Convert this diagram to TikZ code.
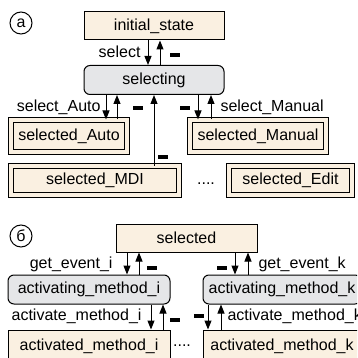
\documentclass[tikz,border=0pt]{standalone}
\usepackage{fontspec}
\setmainfont{Liberation Sans}
\usetikzlibrary{arrows.meta}
\definecolor{cream}{RGB}{250,240,225}
\definecolor{lgray}{RGB}{229,230,232}
\tikzstyle{state}=[rectangle,draw=black,fill=cream,line width=1pt,inner sep=0]
\tikzstyle{process}=[rectangle,rounded corners=6pt,draw=black,fill=lgray,line width=1pt,inner sep=0]
\tikzstyle{final}=[rectangle,draw=black,fill=cream,double=cream,double distance=3.5pt,line width=1pt,inner sep=0]
\tikzstyle{tag}=[circle,draw=black,line width=1pt,minimum size=22pt,inner sep=0]
\tikzstyle{event}=[inner sep=0]
\tikzstyle{nil}=[rectangle,fill=black,minimum width=10pt,minimum height=3.2pt,inner sep=0]

\begin{document}
\begin{tikzpicture}[x=1pt,y=-1pt,line width=1pt,>={Triangle[length=9pt,width=7pt]},
    font=\fontsize{16}{19}\selectfont]
        \path[use as bounding box,clip] (0,0) rectangle (357,358);
        % (a)
        \node[tag] (taga) at (21,23) {a};
        \node[state,minimum width=140pt,minimum height=28pt] (init) at (154,26) {initial\_state};
        \node[process,minimum width=140pt,minimum height=29pt] (sel) at (154,80) {selecting};
        \node[final,minimum width=116pt,minimum height=32pt] (auto) at (69,136) {selected\_Auto};
        \node[final,minimum width=136pt,minimum height=32pt] (manual) at (258,136) {selected\_Manual};
        \node[final,minimum width=168pt,minimum height=29pt] (mdi) at (95,180.5) {selected\_MDI};
        \node[final,minimum width=123pt,minimum height=29pt] (edit) at (290.5,180.5) {selected\_Edit};
        \node[event] (dotsa) at (206,184) {....};

        \node[event,anchor=east] (lselect) at (141,52) {select};
        \node[nil] (n1) at (175,55) {};
        \node[event,anchor=east] (lauto) at (101,107) {select\_Auto};
        \node[nil] (n2) at (138,108) {};
        \node[nil] (n3) at (185,108) {};
        \node[event,anchor=west] (lmanual) at (220,107) {select\_Manual};
        \node[nil] (n4) at (163,157) {};

        \draw [->] ([xshift=-6pt]init.south) -- ([xshift=-6pt]sel.north);
        \draw [->] ([xshift=6pt]sel.north) -- ([xshift=6pt]init.south);
        \draw [->] ([xshift=-48pt]sel.south) -- ([xshift=-48pt]sel.south |- auto.north);
        \draw [->] ([xshift=-37pt]sel.south |- auto.north) -- ([xshift=-37pt]sel.south);
        \draw [->] (sel.south |- mdi.north) -- (sel.south);
        \draw [->] ([xshift=44pt]sel.south) -- ([xshift=44pt]sel.south |- manual.north);
        \draw [->] ([xshift=57pt]sel.south |- manual.north) -- ([xshift=57pt]sel.south);

        % (b)
        \node[tag] (tagb) at (21,236) {б};
        \node[state,minimum width=141pt,minimum height=28pt] (chosen) at (186.5,238) {selected};
        \node[process,minimum width=162pt,minimum height=29pt] (acti) at (89,289.5) {activating\_method\_i};
        \node[process,minimum width=158pt,minimum height=29pt] (actk) at (282,289.5) {activating\_method\_k};
        \node[state,minimum width=162pt,minimum height=40pt] (donei) at (89,350) {};
        \node[state,minimum width=158pt,minimum height=40pt] (donek) at (282,350) {};
        \node[event] (texti) at (89,346) {activated\_method\_i};
        \node[event] (textk) at (282,346) {activated\_method\_k};
        \node[event] (dotsb) at (182,346) {....};

        \node[event,anchor=east] (levi) at (113,264) {get\_event\_i};
        \node[nil] (n5) at (152,268) {};
        \node[nil] (n6) at (222,268) {};
        \node[event,anchor=west] (levk) at (258,264) {get\_event\_k};
        \node[event,anchor=east] (lmeti) at (142,316) {activate\_method\_i};
        \node[nil] (n7) at (175,320) {};
        \node[nil] (n8) at (199,316) {};
        \node[event,anchor=west] (lmetk) at (227,316) {activate\_method\_k};

        \draw [->] ([xshift=-59.5pt]chosen.south) -- ([xshift=-59.5pt]chosen.south |- acti.north);
        \draw [->] ([xshift=-47.5pt]chosen.south |- acti.north) -- ([xshift=-47.5pt]chosen.south);
        \draw [->] ([xshift=48.5pt]chosen.south) -- ([xshift=48.5pt]chosen.south |- actk.north);
        \draw [->] ([xshift=61.5pt]chosen.south |- actk.north) -- ([xshift=61.5pt]chosen.south);
        \draw [->] ([xshift=62pt]acti.south) -- ([xshift=62pt]donei.north);
        \draw [->] ([xshift=74pt]donei.north) -- ([xshift=74pt]acti.south);
        \draw [->] ([xshift=-74pt]actk.south) -- ([xshift=-74pt]donek.north);
        \draw [->] ([xshift=-61pt]donek.north) -- ([xshift=-61pt]actk.south);
    \end{tikzpicture}
\end{document}
